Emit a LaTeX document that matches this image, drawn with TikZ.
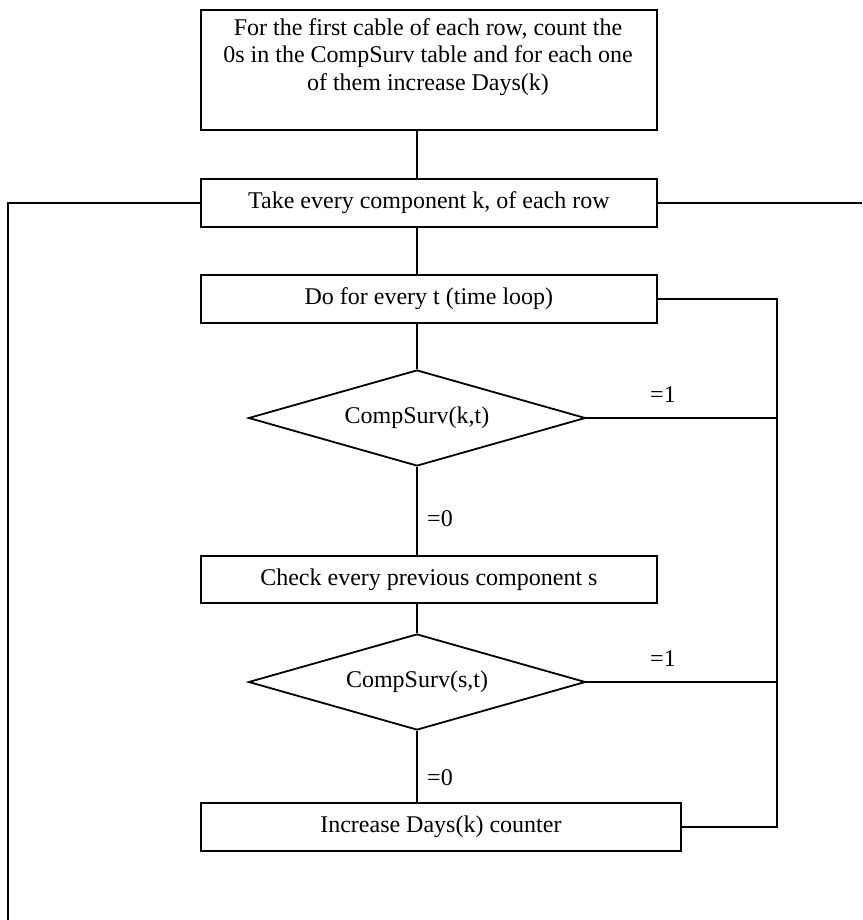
\documentclass[tikz,border=0pt]{standalone}
\usepackage{fontspec}
\setmainfont{Liberation Serif}
\usetikzlibrary{shapes.geometric}
\newcommand{\flowfont}{\fontsize{24}{27.5}\selectfont}
\begin{document}
\begin{tikzpicture}[x=1pt,y=-1pt,line width=1.8pt,
  stepbox/.style={draw,rectangle,inner sep=0pt,anchor=north west,font=\flowfont},
  test/.style={draw,diamond,aspect=3.5,inner sep=0pt,minimum width=337pt,minimum height=96pt,font=\flowfont},
  txt/.style={inner sep=0pt,font=\flowfont,align=center}]
\useasboundingbox (0,0) rectangle (862,920);

% boxes and decisions
\node[stepbox,minimum width=456pt,minimum height=120pt] (b1) at (200,9) {};
\node[txt] (b1text) at (428,57) {For the first cable of each row, count the\\0s in the CompSurv table and for each one\\of them increase Days(k)};
\node[stepbox,minimum width=456pt,minimum height=48pt] (b2) at (200,178) {Take every component k, of each row};
\node[stepbox,minimum width=456pt,minimum height=48pt] (b3) at (200,274) {Do for every t (time loop)};
\node[test] (d1) at (417,418) {CompSurv(k,t)};
\node[stepbox,minimum width=456pt,minimum height=47pt] (b4) at (200,555) {Check every previous component s};
\node[test] (d2) at (417,682) {CompSurv(s,t)};
\node[stepbox,minimum width=480pt,minimum height=48pt] (b5) at (200,802) {Increase Days(k) counter};

% guide coordinates
\coordinate (spine) at (417,0);
\coordinate (rail) at (777,0);
\coordinate (outl) at (8,920);
\coordinate (outr) at (862,202);

% main flow
\draw (b1.south -| spine) -- (b2.north -| spine);
\draw (b2.south -| spine) -- (b3.north -| spine);
\draw (b3.south -| spine) -- (d1.north);
\draw (d1.south) -- (b4.north -| spine);
\draw (b4.south -| spine) -- (d2.north);
\draw (d2.south) -- (b5.north -| spine);

% outer loop
\draw (b2.west) -- (b2.west -| outl) -- (outl);
\draw (b2.east) -- (b2.east -| outr);

% time loop return rail
\draw (b3.east) -- (b3.east -| rail) -- (b5.east -| rail) -- (b5.east);
\draw (d1.east) -- (d1.east -| rail);
\draw (d2.east) -- (d2.east -| rail);

% branch labels
\node[txt] (l1) at (663,395) {=1};
\node[txt] (l2) at (663,659) {=1};
\node[txt] (l3) at (440,519) {=0};
\node[txt] (l4) at (440,778) {=0};
\end{tikzpicture}
\end{document}
